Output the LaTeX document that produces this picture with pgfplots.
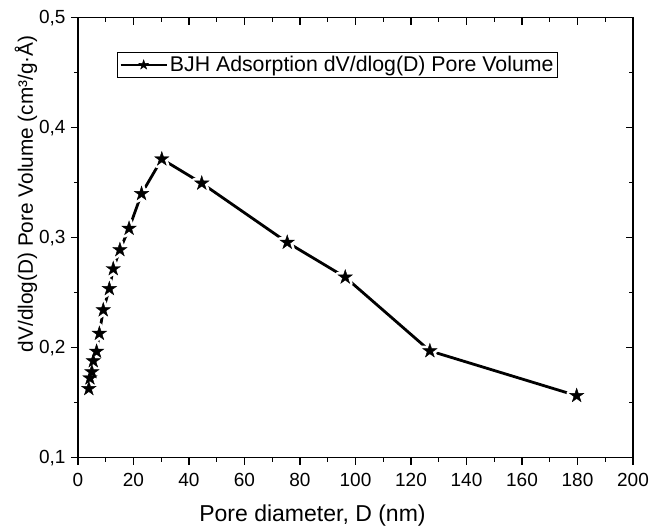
\documentclass[border=0pt]{standalone}
\usepackage{fontspec}
\setmainfont{Liberation Sans}
\usepackage{pgfplots}
\pgfplotsset{compat=1.18}
\pgfdeclareplotmark{fstar}{%
  \pgfpathmoveto{\pgfpointpolar{90}{\pgfplotmarksize}}%
  \pgfpathlineto{\pgfpointpolar{126}{0.382\pgfplotmarksize}}%
  \pgfpathlineto{\pgfpointpolar{162}{\pgfplotmarksize}}%
  \pgfpathlineto{\pgfpointpolar{198}{0.382\pgfplotmarksize}}%
  \pgfpathlineto{\pgfpointpolar{234}{\pgfplotmarksize}}%
  \pgfpathlineto{\pgfpointpolar{270}{0.382\pgfplotmarksize}}%
  \pgfpathlineto{\pgfpointpolar{306}{\pgfplotmarksize}}%
  \pgfpathlineto{\pgfpointpolar{342}{0.382\pgfplotmarksize}}%
  \pgfpathlineto{\pgfpointpolar{18}{\pgfplotmarksize}}%
  \pgfpathlineto{\pgfpointpolar{54}{0.382\pgfplotmarksize}}%
  \pgfpathclose
  \pgfusepathqfillstroke}
\pgfplotstableread{
x y
3.9 0.1627
4.3 0.1724
5.0 0.1780
5.5 0.1880
6.7 0.1966
7.7 0.2129
9.1 0.2343
11.3 0.2536
12.7 0.2717
15.1 0.2890
18.4 0.3084
22.9 0.3400
30.2 0.3715
44.6 0.3495
75.4 0.2957
96.3 0.2641
126.8 0.1971
179.7 0.1564
}\bjh
\begin{document}
\begin{tikzpicture}
\useasboundingbox (-78pt,-68.3pt) rectangle (589pt,457.7pt);
\begin{axis}[
  scale only axis, width=555pt, height=440pt,
  xmin=0, xmax=200, ymin=0.1, ymax=0.5,
  xtick={0,20,...,200}, ytick={0.1,0.2,0.3,0.4,0.5},
  minor x tick num=1, minor y tick num=1,
  xtick pos=bottom, ytick pos=left,
  tick align=outside,
  major tick length=7pt, minor tick length=4pt,
  axis line style={line width=1.2pt, black},
  every tick/.style={line width=1.2pt, black},
  /pgf/number format/assume math mode=true,
  tick label style={font=\fontsize{19}{22}\selectfont},
  xticklabel style={yshift=-5pt},
  yticklabel style={xshift=-2pt, /pgf/number format/.cd, fixed, fixed zerofill, precision=1, use comma},
  xlabel={Pore diameter, D (nm)},
  ylabel={dV/dlog(D) Pore Volume (cm³/g·Å)},
  xlabel style={font=\fontsize{23}{27}\selectfont, at={(axis description cs:0.4225,-0.1455)}, anchor=base},
  ylabel style={font=\fontsize{20.8}{25}\selectfont, at={(axis description cs:-0.0811,0.6)}, anchor=base},
  legend style={at={(0.0703,0.922)}, anchor=north west, draw=black, line width=0.8pt,
    font=\fontsize{21.3}{25}\selectfont, inner xsep=2pt, inner ysep=2pt},
  legend cell align=left,
  legend image code/.code={\draw[mark repeat=2,mark phase=2,#1] plot coordinates {(0pt,0pt)(23pt,0pt)(46pt,0pt)};},
  clip=false,
]
\addlegendimage{black, line width=2.5pt, mark=fstar, mark size=5pt, mark options={line width=0.5pt}}
\addlegendentry{BJH Adsorption dV/dlog(D) Pore Volume}
\addplot[forget plot, black, line width=2.8pt, line join=round] table[x=x,y=y] {\bjh};
\addplot[forget plot, only marks, mark=fstar, mark size=7.5pt, mark options={draw=white, fill=white, line width=6pt, line join=round}] table[x=x,y=y] {\bjh};
\addplot[forget plot, only marks, mark=fstar, mark size=7.5pt, mark options={draw=black, fill=black, line width=0.4pt}] table[x=x,y=y] {\bjh};
\end{axis}
\begin{axis}[
  scale only axis, width=555pt, height=440pt,
  xmin=0, xmax=200, ymin=0.1, ymax=0.5,
  xtick={0,20,...,200}, ytick={0.1,0.2,0.3,0.4,0.5},
  minor x tick num=1, minor y tick num=1,
  xtick pos=top, ytick pos=right,
  tick align=inside,
  major tick length=7pt, minor tick length=4pt,
  axis line style={line width=1.2pt, black},
  every tick/.style={line width=1.2pt, black},
  xticklabels={}, yticklabels={},
]
\end{axis}
\end{tikzpicture}
\end{document}
